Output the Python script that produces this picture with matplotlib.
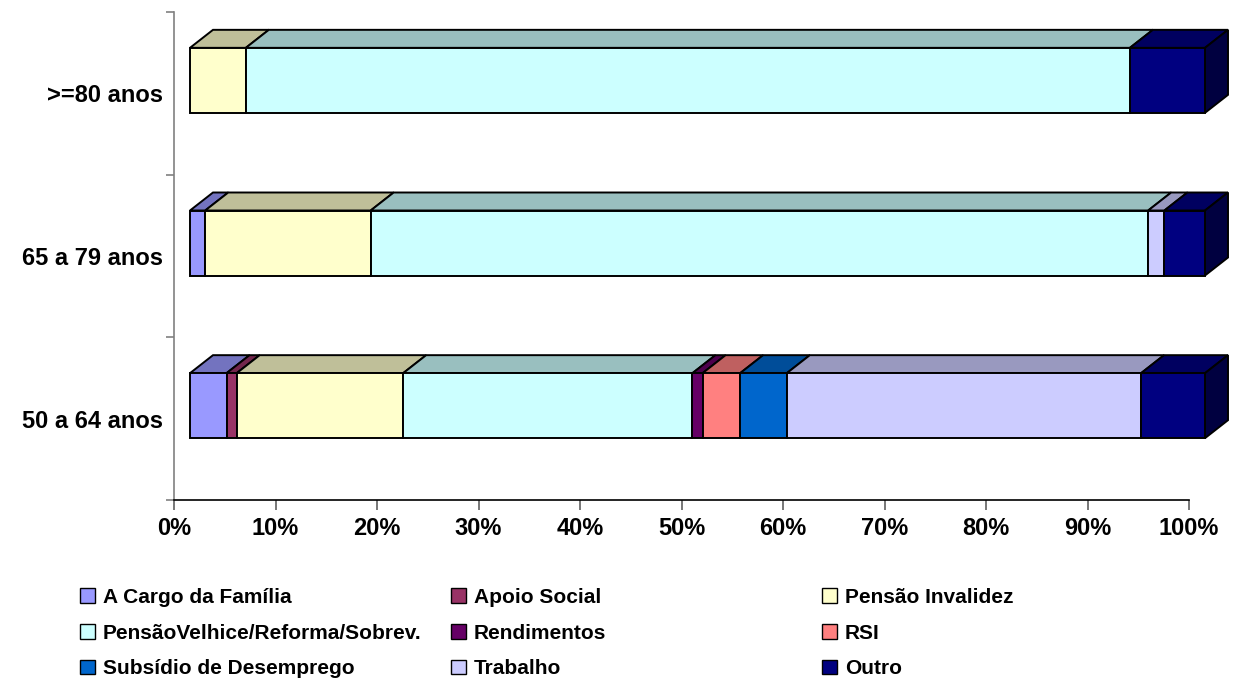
import matplotlib
matplotlib.use("Agg")
import matplotlib.pyplot as plt
from matplotlib.patches import Polygon, Patch
from matplotlib.colors import to_rgb

plt.rcParams["font.family"] = ["Liberation Sans", "DejaVu Sans"]
plt.rcParams["font.weight"] = "bold"

# categories, bottom to top
groups = ["50 a 64 anos", "65 a 79 anos", ">=80 anos"]

series = [
    "A Cargo da Família",
    "Apoio Social",
    "Pensão Invalidez",
    "PensãoVelhice/Reforma/Sobrev.",
    "Rendimentos",
    "RSI",
    "Subsídio de Desemprego",
    "Trabalho",
    "Outro",
]
colors = ["#9999FF", "#993366", "#FFFFCC", "#CCFFFF", "#660066",
          "#FF8080", "#0066CC", "#CCCCFF", "#000080"]

# percentages per series, one value per group (50-64, 65-79, >=80)
a_cargo = [3.6, 1.5, 0.0]
apoio_social = [1.0, 0.0, 0.0]
pensao_invalidez = [16.4, 16.3, 5.5]
pensao_velhice = [28.5, 76.6, 87.1]
rendimentos = [1.0, 0.0, 0.0]
rsi = [3.7, 0.0, 0.0]
subsidio = [4.6, 0.0, 0.0]
trabalho = [34.9, 1.6, 0.0]
outro = [6.3, 4.0, 7.4]

values = [a_cargo, apoio_social, pensao_invalidez, pensao_velhice,
          rendimentos, rsi, subsidio, trabalho, outro]


def shade(c, f):
    r, g, b = to_rgb(c)
    return (r * f, g * f, b * f)


W, H = 1236, 683
fig = plt.figure(figsize=(W / 100, H / 100), dpi=100)
ax = fig.add_axes([174 / W, 1 - 500 / H, (1189 - 174) / W, (500 - 12) / H])
ax.set_xlim(0, 100)
ax.set_ylim(0, 3)

# 3d look: front face offset and depth, in data units
px_x = 1015 / 100.0
px_y = 488 / 3.0
off_x = 16 / px_x
off_y = 13 / px_y
dx = 23 / px_x
dy = 18 / px_y
bar_h = 65 / px_y
ec = "black"
lw = 1.4

for gi in range(len(groups)):
    yc = gi + 0.5 + off_y
    y0, y1 = yc - bar_h / 2, yc + bar_h / 2
    left = 0.0
    segs = []
    for si, vals in enumerate(values):
        v = vals[gi]
        if v <= 0:
            continue
        segs.append((left + off_x, left + v + off_x, colors[si]))
        left += v
    # top faces
    for xa, xb, c in segs:
        top = Polygon([(xa, y1), (xb, y1), (xb + dx, y1 + dy), (xa + dx, y1 + dy)],
                      closed=True, fc=shade(c, 0.75), ec=ec, lw=lw, clip_on=False, zorder=3)
        ax.add_patch(top)
    # right side of the last segment
    xa, xb, c = segs[-1]
    side = Polygon([(xb, y0), (xb + dx, y0 + dy), (xb + dx, y1 + dy), (xb, y1)],
                   closed=True, fc=shade(c, 0.5), ec=ec, lw=lw, clip_on=False, zorder=3)
    ax.add_patch(side)
    # front faces
    for xa, xb, c in segs:
        front = Polygon([(xa, y0), (xb, y0), (xb, y1), (xa, y1)],
                        closed=True, fc=c, ec=ec, lw=lw, clip_on=False, zorder=4)
        ax.add_patch(front)

for s in ["top", "right"]:
    ax.spines[s].set_visible(False)
ax.spines["left"].set_color("#808080")
ax.spines["left"].set_linewidth(1.2)
ax.spines["bottom"].set_linewidth(1.2)

ax.set_xticks(range(0, 101, 10))
ax.set_xticklabels([f"{t}%" for t in range(0, 101, 10)], fontsize=17, fontweight="bold")
ax.tick_params(axis="x", length=7, width=1.2, color="#606060", pad=5)

ax.set_yticks([0, 1, 2, 3])
ax.set_yticklabels([])
ax.tick_params(axis="y", which="major", length=6, width=1.2, color="#808080")
ax.set_yticks([0.5, 1.5, 2.5], minor=True)
ax.set_yticklabels(groups, minor=True, fontsize=17, fontweight="bold")
ax.tick_params(axis="y", which="minor", length=0, pad=8)

# legend, three columns placed like the original
col_x = [80, 451, 822]
for ci in range(3):
    handles = [Patch(facecolor=colors[i], edgecolor="black", lw=1.0, label=series[i])
               for i in range(ci, 9, 3)]
    fig.legend(handles=handles, loc="upper left",
               bbox_to_anchor=(col_x[ci] / W, 1 - 588 / H),
               frameon=False, prop={"weight": "bold", "size": 15},
               handlelength=0.7, handleheight=0.7, handletextpad=0.4,
               labelspacing=0.8, borderpad=0, borderaxespad=0)

fig.savefig("out.png", dpi=100)
